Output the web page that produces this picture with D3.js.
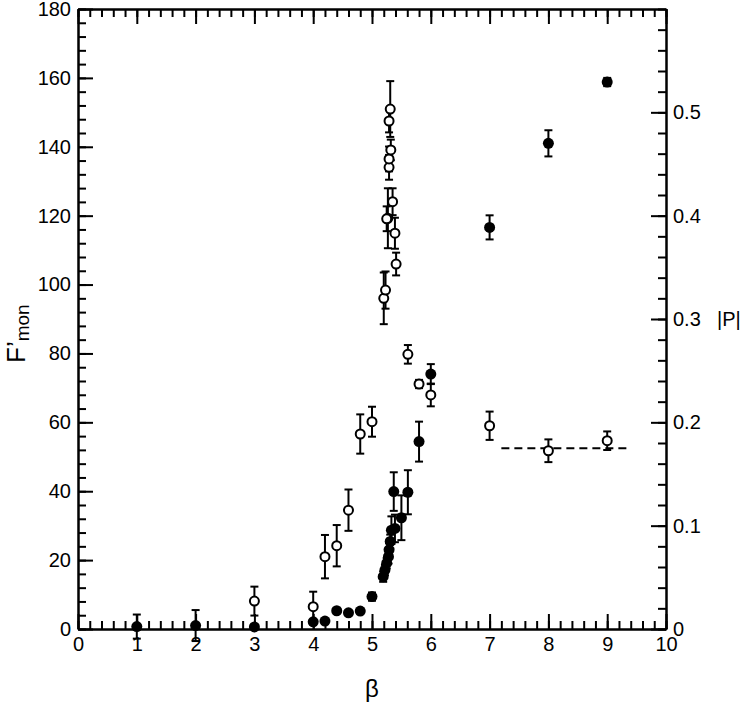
<!DOCTYPE html>
<html>
<head>
<meta charset="utf-8">
<script src="https://cdn.jsdelivr.net/npm/d3@7"></script>
<style>
  body { margin: 0; background: #fff; }
  text { font-family: "Liberation Sans", Arial, Helvetica, sans-serif; fill: #000; }
</style>
</head>
<body>
<div id="chart"></div>
<script>
// F'mon (left axis) - filled circles: [beta, value, error]
const fmonBeta = [1, 2, 3, 4, 4.2, 4.4, 4.6, 4.8, 5.0, 5.19, 5.22, 5.25, 5.28, 5.29, 5.31, 5.33, 5.39, 5.37, 5.5, 5.61, 5.8, 6.0, 7.0, 8.0, 9.0];
const fmonVal  = [0.7, 1.0, 0.6, 2.1, 2.3, 5.3, 4.7, 5.2, 9.4, 15.2, 17.1, 19.1, 21.0, 23.0, 25.4, 28.7, 29.2, 39.9, 32.3, 39.7, 54.4, 74.0, 116.6, 141.0, 158.8];
const fmonErr  = [3.5, 4.5, 0, 0, 0, 0, 0, 0, 1.2, 1.5, 1.5, 1.5, 2, 2, 2, 4, 4, 5.6, 6.5, 6.4, 5.8, 2.9, 3.5, 3.8, 1.2];

// |P| (right axis) - open circles
const polBeta = [3.0, 4.0, 4.2, 4.4, 4.6, 4.8, 5.0, 5.2, 5.23, 5.27, 5.25, 5.29, 5.29, 5.32, 5.29, 5.31, 5.35, 5.39, 5.41, 5.61, 5.8, 6.0, 7.0, 8.0, 9.0];
const polVal  = [0.027, 0.0216, 0.070, 0.0806, 0.115, 0.1887, 0.2006, 0.320, 0.328, 0.3975, 0.397, 0.4468, 0.4549, 0.4636, 0.4916, 0.5032, 0.4135, 0.383, 0.3532, 0.2658, 0.2371, 0.2265, 0.1967, 0.1725, 0.1822];
const polErr  = [0.014, 0.0145, 0.021, 0.020, 0.020, 0.019, 0.0145, 0.025, 0.018, 0.029, 0.012, 0.012, 0.012, 0.010, 0.011, 0.027, 0.013, 0.015, 0.011, 0.009, 0.004, 0.011, 0.0137, 0.011, 0.009];

// dashed plateau of |P|
const plateauBeta = [7.2, 9.4];
const plateauVal = 0.175;

const xTicks = d3.range(0, 11, 1);
const yTicks = d3.range(0, 181, 20);
const rTicks = [0, 0.1, 0.2, 0.3, 0.4, 0.5];

const W = 741, H = 705;
const m = { left: 78, top: 9, right: 75, bottom: 76 };
const iw = W - m.left - m.right, ih = H - m.top - m.bottom;

const svg = d3.select("#chart").append("svg").attr("width", W).attr("height", H);
const g = svg.append("g").attr("transform", `translate(${m.left},${m.top})`);

const x = d3.scaleLinear().domain([0, 10]).range([0, iw]);
const y = d3.scaleLinear().domain([0, 180]).range([ih, 0]);
const yr = d3.scaleLinear().domain([0, 0.6]).range([ih, 0]);

// --- axes (ticks point inward) ---
function styleAxis(sel) {
    sel.select(".domain").attr("stroke", "#000").attr("stroke-width", 2);
    sel.selectAll(".tick line").attr("stroke", "#000").attr("stroke-width", 2);
    sel.selectAll(".tick text").style("font-size", "20px").attr("font-family", null);
}
const minorX = d3.range(0, 10.01, 0.2), minorY = d3.range(0, 181, 4), minorR = d3.range(0, 0.601, 0.02);

g.append("g").attr("transform", `translate(0,${ih})`)
    .call(d3.axisBottom(x).tickValues(minorX).tickSize(-8).tickSizeOuter(0).tickFormat(""))
    .call(styleAxis);
g.append("g").attr("transform", `translate(0,${ih})`)
    .call(d3.axisBottom(x).tickValues(xTicks).tickSize(-15).tickSizeOuter(0).tickPadding(8).tickFormat(d3.format("d")))
    .call(styleAxis);
g.append("g")
    .call(d3.axisTop(x).tickValues(minorX).tickSize(-8).tickSizeOuter(0).tickFormat(""))
    .call(styleAxis);
g.append("g")
    .call(d3.axisTop(x).tickValues(xTicks).tickSize(-15).tickSizeOuter(0).tickFormat(""))
    .call(styleAxis);

g.append("g")
    .call(d3.axisLeft(y).tickValues(minorY).tickSize(-8).tickSizeOuter(0).tickFormat(""))
    .call(styleAxis);
g.append("g")
    .call(d3.axisLeft(y).tickValues(yTicks).tickSize(-15).tickSizeOuter(0).tickPadding(7))
    .call(styleAxis);

g.append("g").attr("transform", `translate(${iw},0)`)
    .call(d3.axisRight(yr).tickValues(minorR).tickSize(-8).tickSizeOuter(0).tickFormat(""))
    .call(styleAxis);
g.append("g").attr("transform", `translate(${iw},0)`)
    .call(d3.axisRight(yr).tickValues(rTicks).tickSize(-15).tickSizeOuter(0).tickPadding(7)
        .tickFormat(d => d === 0 ? "0" : d3.format(".1f")(d)))
    .call(styleAxis);

// --- labels ---
svg.append("text").attr("x", m.left + x(5)).attr("y", 697)
    .attr("text-anchor", "middle").style("font-size", "24px").text("β");

const yl = svg.append("text").attr("transform", "translate(25,363) rotate(-90)")
    .style("font-size", "26px");
yl.append("tspan").text("F’");
yl.append("tspan").attr("dy", 4).style("font-size", "19px").text("mon");

svg.append("text").attr("x", 717).attr("y", m.top + yr(0.3)).attr("dy", "0.35em")
    .style("font-size", "20px").text("|P|");

// --- error bars ---
function errBars(layer, xs, vs, es, scale) {
    xs.forEach((b, i) => {
        if (!es[i]) return;
        const cx = x(b), y0 = scale(vs[i] - es[i]), y1 = scale(vs[i] + es[i]);
        layer.append("line").attr("x1", cx).attr("x2", cx).attr("y1", y0).attr("y2", y1);
        layer.append("line").attr("x1", cx - 4).attr("x2", cx + 4).attr("y1", y0).attr("y2", y0);
        layer.append("line").attr("x1", cx - 4).attr("x2", cx + 4).attr("y1", y1).attr("y2", y1);
    });
}
const errLayer = g.append("g").attr("stroke", "#000").attr("stroke-width", 2);
errBars(errLayer, fmonBeta, fmonVal, fmonErr, y);
errBars(errLayer, polBeta, polVal, polErr, yr);

// dashed plateau
g.append("line")
    .attr("x1", x(plateauBeta[0])).attr("x2", x(plateauBeta[1]))
    .attr("y1", yr(plateauVal)).attr("y2", yr(plateauVal))
    .attr("stroke", "#000").attr("stroke-width", 2).attr("stroke-dasharray", "8,5");

// open circles
g.append("g").selectAll("circle").data(polBeta).join("circle")
    .attr("cx", d => x(d)).attr("cy", (d, i) => yr(polVal[i])).attr("r", 4.5)
    .attr("fill", "#fff").attr("stroke", "#000").attr("stroke-width", 2);

// filled circles
g.append("g").selectAll("circle").data(fmonBeta).join("circle")
    .attr("cx", d => x(d)).attr("cy", (d, i) => y(fmonVal[i])).attr("r", 5.5)
    .attr("fill", "#000");
</script>
</body>
</html>
